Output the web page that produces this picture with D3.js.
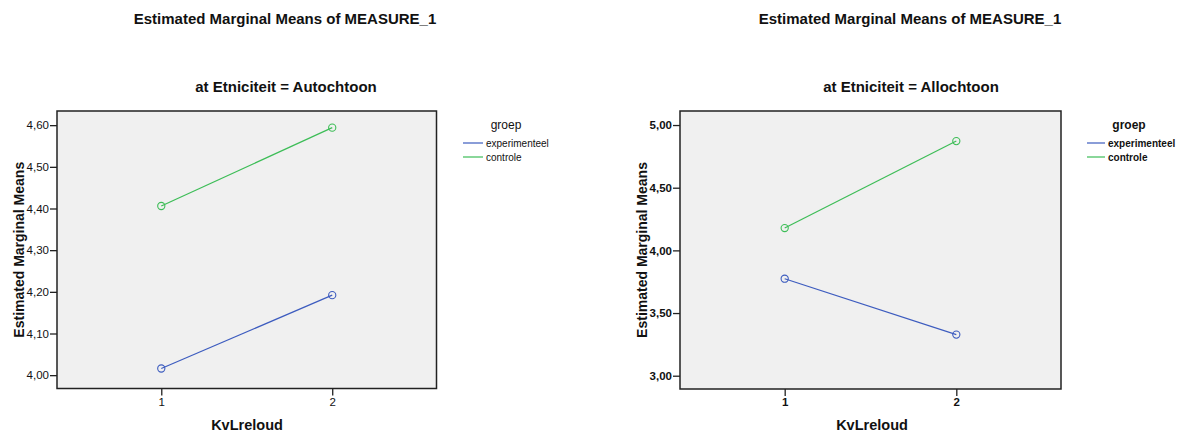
<!DOCTYPE html>
<html>
<head>
<meta charset="utf-8">
<script src="https://cdn.jsdelivr.net/npm/d3@7"></script>
<style>
  body { margin: 0; background: #fff; }
  text { font-family: "Liberation Sans", Arial, sans-serif; fill: #111; }
</style>
</head>
<body>
<script>
const width = 1180, height = 434

const levels = [1, 2]
const groups = ["experimenteel", "controle"]
const colors = ["#3d5cbf", "#3dbd57"]

// Autochtoon panel
const autoExperimenteel = [4.016, 4.192]
const autoControle = [4.406, 4.594]
const autoTicks = [4.0, 4.1, 4.2, 4.3, 4.4, 4.5, 4.6]

// Allochtoon panel
const alloExperimenteel = [3.774, 3.328]
const alloControle = [4.178, 4.872]
const alloTicks = [3.0, 3.5, 4.0, 4.5, 5.0]

const svg = d3.select("body").append("svg")
    .attr("width", width)
    .attr("height", height)

const fmt = v => d3.format(".2f")(v).replace(".", ",")

const drawPanel = (p) => {
  const g = svg.append("g")
  const x = d3.scaleLinear().domain([0.39, 2.61]).range([p.left, p.right])
  const y = d3.scaleLinear().domain(p.yDomain).range([p.bottom, p.top])
  const weight = p.boldTicks ? "bold" : "normal"

  g.append("text")
      .attr("x", p.titleX).attr("y", 24)
      .attr("text-anchor", "middle")
      .attr("font-size", 15).attr("font-weight", "bold")
      .text("Estimated Marginal Means of MEASURE_1")

  g.append("text")
      .attr("x", p.titleX + 1).attr("y", 92)
      .attr("text-anchor", "middle")
      .attr("font-size", 15).attr("font-weight", "bold")
      .text(p.subtitle)

  g.append("rect")
      .attr("x", p.left).attr("y", p.top)
      .attr("width", p.right - p.left).attr("height", p.bottom - p.top)
      .style("fill", "#f0f0f0")
      .style("stroke", "#222")
      .style("stroke-width", 1.5)

  const yAxis = g.append("g")
      .attr("transform", `translate(${p.left},0)`)
      .call(d3.axisLeft(y).tickValues(p.ticks).tickFormat(fmt).tickSize(7).tickSizeOuter(0))
  yAxis.select(".domain").remove()
  yAxis.selectAll("line").attr("stroke", "#222").attr("stroke-width", 1.3)
  yAxis.selectAll("text")
      .attr("font-size", 11.5)
      .attr("font-weight", weight)
      .attr("fill", "#222")
      .attr("x", -8)
      .style("font-family", "'Liberation Sans', Arial, sans-serif")

  const xAxis = g.append("g")
      .attr("transform", `translate(0,${p.bottom})`)
      .call(d3.axisBottom(x).tickValues(levels).tickFormat(d3.format("d")).tickSize(7).tickSizeOuter(0))
  xAxis.select(".domain").remove()
  xAxis.selectAll("line").attr("stroke", "#222").attr("stroke-width", 1.3)
  xAxis.selectAll("text")
      .attr("font-size", 11.5)
      .attr("font-weight", weight)
      .attr("fill", "#222")
      .attr("y", 9)
      .style("font-family", "'Liberation Sans', Arial, sans-serif")

  g.append("text")
      .attr("transform", `translate(${p.left - 33},${(p.top + p.bottom) / 2}) rotate(-90)`)
      .attr("text-anchor", "middle")
      .attr("font-size", 14).attr("font-weight", "bold")
      .text("Estimated Marginal Means")

  g.append("text")
      .attr("x", p.xLabelX).attr("y", 430)
      .attr("text-anchor", "middle")
      .attr("font-size", 14.5).attr("font-weight", "bold")
      .text("KvLreloud")

  const line = d3.line().x((d, i) => x(levels[i])).y(d => y(d))
  p.series.forEach((s, k) => {
    g.append("path")
        .datum(s)
        .attr("d", line)
        .style("fill", "none")
        .style("stroke", colors[k])
        .style("stroke-width", 1.2)
    g.selectAll(null)
        .data(s)
        .enter().append("circle")
        .attr("cx", (d, i) => x(levels[i]))
        .attr("cy", d => y(d))
        .attr("r", 3.6)
        .style("fill", "none")
        .style("stroke", colors[k])
        .style("stroke-width", 1.1)
  })

  // legend
  const lg = g.append("g")
  lg.append("text")
      .attr("x", p.legendX + p.groepOffset).attr("y", 129)
      .attr("text-anchor", "middle")
      .attr("font-size", 12)
      .attr("font-weight", weight)
      .text("groep")
  groups.forEach((name, k) => {
    const yy = 143 + k * 14
    lg.append("line")
        .attr("x1", p.legendX).attr("x2", p.legendX + p.legendLen)
        .attr("y1", yy).attr("y2", yy)
        .style("stroke", colors[k])
        .style("stroke-width", 1.2)
    lg.append("text")
        .attr("x", p.legendX + p.legendLen + 3).attr("y", yy + 3.5)
        .attr("font-size", 10)
        .attr("font-weight", weight)
        .text(name)
  })
}

drawPanel({
  left: 57, right: 436.5, top: 111, bottom: 388.5,
  yDomain: [3.968, 4.634],
  ticks: autoTicks,
  series: [autoExperimenteel, autoControle],
  subtitle: "at Etniciteit = Autochtoon",
  titleX: 285, xLabelX: 247,
  legendX: 463, legendLen: 20, groepOffset: 43,
  boldTicks: false
})

drawPanel({
  left: 680, right: 1061, top: 111, bottom: 389,
  yDomain: [2.894, 5.112],
  ticks: alloTicks,
  series: [alloExperimenteel, alloControle],
  subtitle: "at Etniciteit = Allochtoon",
  titleX: 910, xLabelX: 872,
  legendX: 1087, legendLen: 18, groepOffset: 42,
  boldTicks: true
})
</script>
</body>
</html>
